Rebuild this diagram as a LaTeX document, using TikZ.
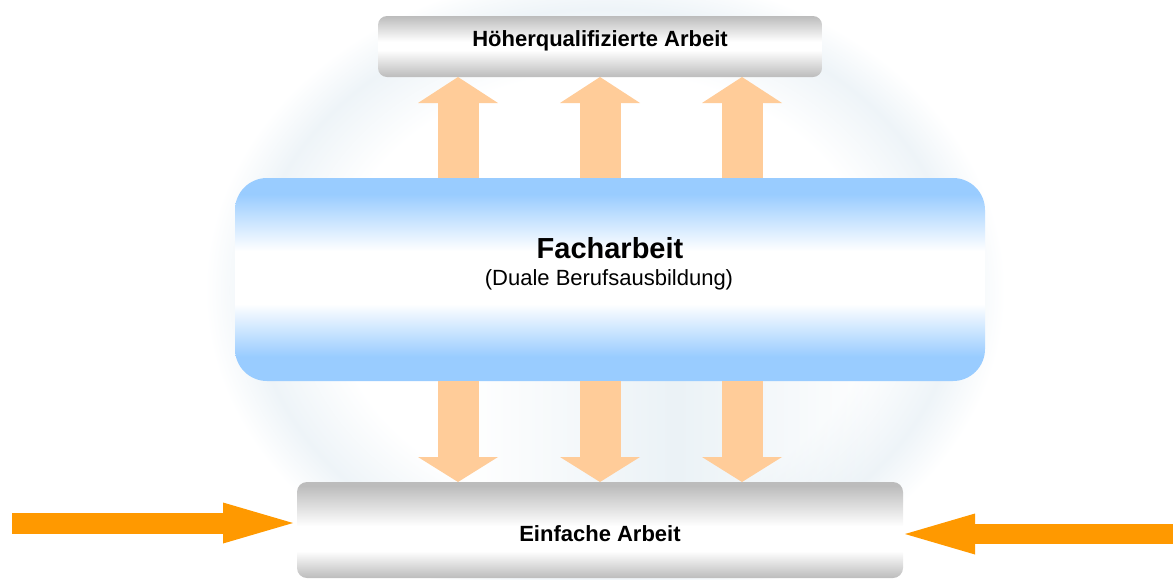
\documentclass[tikz,border=0pt]{standalone}
\usepackage{fontspec}
\setmainfont{Liberation Sans}
\usetikzlibrary{arrows.meta,calc,fadings}
\definecolor{peach}{RGB}{255,204,153}
\definecolor{orng}{RGB}{255,153,0}
\definecolor{fblue}{RGB}{153,204,255}
\definecolor{fgray}{RGB}{188,188,188}
\definecolor{glowc}{RGB}{238,244,248}
\definecolor{streakc}{RGB}{222,234,241}
\pgfdeclareverticalshading{blueshade}{100bp}{color(0bp)=(fblue); color(25bp)=(fblue); color(31bp)=(fblue); color(44bp)=(white); color(57bp)=(white); color(71bp)=(fblue); color(100bp)=(fblue)}
\pgfdeclareverticalshading{topshade}{100bp}{color(0bp)=(fgray); color(25bp)=(fgray); color(47bp)=(white); color(54bp)=(white); color(75bp)=(fgray); color(100bp)=(fgray)}
\pgfdeclareverticalshading{botshade}{100bp}{color(0bp)=(fgray); color(25bp)=(fgray); color(39bp)=(white); color(52bp)=(white); color(73bp)=(fgray); color(100bp)=(fgray)}
\pgfdeclareradialshading{glowshade}{\pgfpoint{0bp}{0bp}}{color(0bp)=(white); color(17bp)=(white); color(22bp)=(glowc); color(25bp)=(white); color(50bp)=(white)}
\tikzfading[name=hfade, left color=transparent!100, right color=transparent!100, middle color=transparent!40]
\tikzset{
  box/.style={shade, draw=none, inner sep=0pt, outer sep=0pt},
  uparr/.style={draw=peach, line width=41pt, -{Triangle[width=80pt,length=26pt,line width=0pt]}},
  downarr/.style={draw=peach, line width=41pt, -{Triangle[width=80pt,length=25pt,line width=0pt]}},
  sidearr/.style={draw=orng, -{Triangle[width=41pt,length=70pt,line width=0pt]}},
  bigtxt/.style={anchor=base, font=\bfseries\fontsize{22}{26}\selectfont},
}
\begin{document}
\begin{tikzpicture}[x=1pt,y=-1pt]
\useasboundingbox (0,0) rectangle (1173,579);
% background glow
\shade[shading=glowshade] (605,290) ellipse [x radius=400, y radius=320];
\fill[streakc, path fading=hfade] (470,381) rectangle (880,482);
% boxes
\node[box, shading=topshade, minimum width=444pt, minimum height=61pt, rounded corners=9pt] (top) at (600,46.5) {};
\node[box, shading=blueshade, minimum width=750pt, minimum height=203pt, rounded corners=32pt] (mid) at (610,279.5) {};
\node[box, shading=botshade, minimum width=606pt, minimum height=96pt, rounded corners=10pt] (bot) at (600,530) {};
% texts
\node[bigtxt] (ttop) at (600,46) {Höherqualifizierte Arbeit};
\node[anchor=base, font=\bfseries\fontsize{29}{34}\selectfont] (tmid) at (610,258) {Facharbeit};
\node[anchor=base, font=\fontsize{22}{26}\selectfont] (tmid2) at (609,285) {(Duale Berufsausbildung)};
\node[bigtxt] (tbot) at (600,541) {Einfache Arbeit};
% up arrows
\coordinate (u1) at ($(top.south)+(-142,0)$);
\coordinate (u2) at (top.south);
\coordinate (u3) at ($(top.south)+(142,0)$);
\draw[uparr] (u1 |- mid.north) -- (u1);
\draw[uparr] (u2 |- mid.north) -- (u2);
\draw[uparr] (u3 |- mid.north) -- (u3);
% down arrows
\coordinate (d1) at ($(bot.north)+(-142,0)$);
\coordinate (d2) at (bot.north);
\coordinate (d3) at ($(bot.north)+(142,0)$);
\draw[downarr] (d1 |- mid.south) -- (d1);
\draw[downarr] (d2 |- mid.south) -- (d2);
\draw[downarr] (d3 |- mid.south) -- (d3);
% side arrows
\coordinate (lin) at (12,523);
\coordinate (rin) at (1173,534);
\draw[sidearr, line width=21pt] (lin) -- ($(bot.west)+(-4,-7)$);
\draw[sidearr, line width=20pt] (rin) -- ($(bot.east)+(2,4)$);
\end{tikzpicture}
\end{document}
